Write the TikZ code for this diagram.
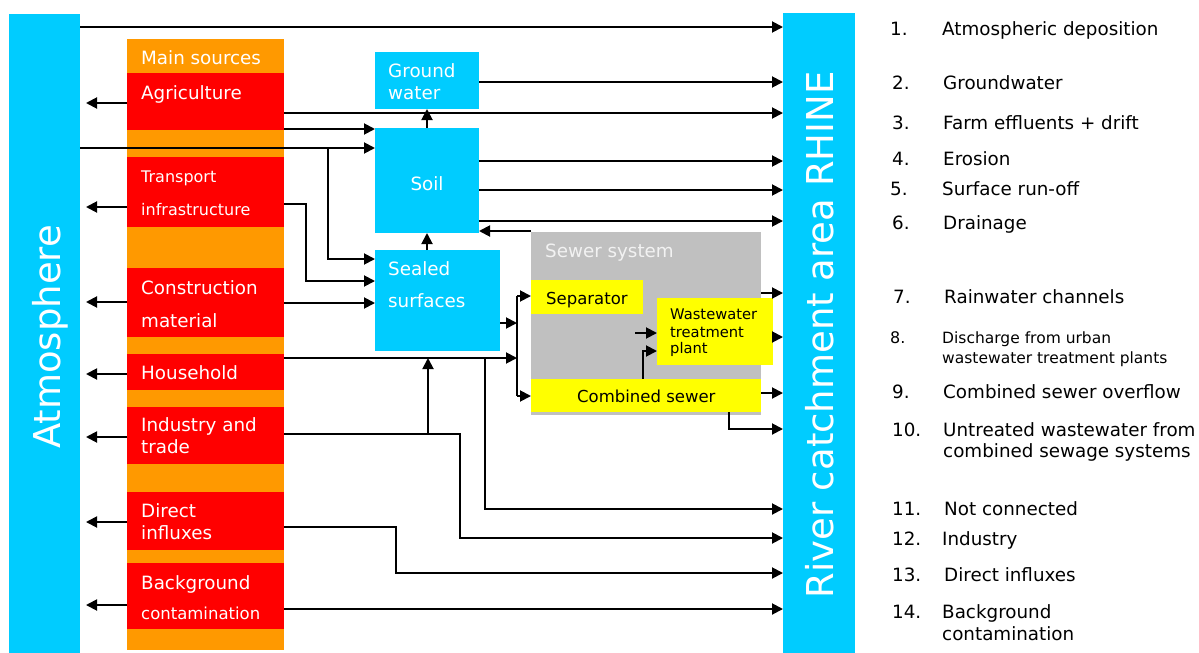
\documentclass[tikz,border=0pt]{standalone}
\usepackage{fontspec}
\setmainfont{DejaVu Sans}
\usetikzlibrary{arrows.meta}
\definecolor{cy}{HTML}{00CCFF}
\definecolor{orng}{HTML}{FF9900}
\definecolor{rd}{HTML}{FF0000}
\definecolor{yl}{HTML}{FFFF00}
\definecolor{gry}{HTML}{C0C0C0}
\begin{document}
\begin{tikzpicture}[x=1pt,y=-1pt,
  box/.style={anchor=north west, inner sep=0pt, outer sep=0pt, draw=none},
  ln/.style={line width=1.9pt, line join=miter},
  arr/.style={ln, -{Triangle[length=11pt,width=11pt]}},
  tx/.style={anchor=base west, inner sep=0pt, font=\fontsize{18.3}{20}\selectfont},
  wt/.style={tx, text=white},
  bt/.style={tx, text=black},
  big/.style={anchor=base, inner sep=0pt, rotate=90, text=white, font=\fontsize{37}{40}\selectfont}
]
\useasboundingbox (0,0) rectangle (1199,653);
\fill[white] (0,0) rectangle (1199,653);

% big bars
\node[box, fill=cy, minimum width=71, minimum height=639] (atm) at (9,14) {};
\node[box, fill=cy, minimum width=72, minimum height=640] (river) at (783,13) {};
\node[big] (tatm) at (60,337) {Atmosphere};
\node[big] (triver) at (833,335) {River catchment area RHINE};

% sources column
\node[box, fill=orng, minimum width=157, minimum height=611] (src) at (127,39) {};
\node[box, fill=rd, minimum width=157, minimum height=57] (agri) at (127,73) {};
\node[box, fill=rd, minimum width=157, minimum height=70] (trans) at (127,157) {};
\node[box, fill=rd, minimum width=157, minimum height=69] (constr) at (127,268) {};
\node[box, fill=rd, minimum width=157, minimum height=36] (house) at (127,354) {};
\node[box, fill=rd, minimum width=157, minimum height=57] (indus) at (127,407) {};
\node[box, fill=rd, minimum width=157, minimum height=58] (direct) at (127,492) {};
\node[box, fill=rd, minimum width=157, minimum height=66] (backg) at (127,563) {};

\node[wt] (tsrc) at (141,64) {Main sources};
\node[wt] (tagri) at (141,99) {Agriculture};
\node[wt, font=\fontsize{16}{18}\selectfont] (ttr1) at (141,182) {Transport};
\node[wt, font=\fontsize{16}{18}\selectfont] (ttr2) at (141,215) {infrastructure};
\node[wt] (tco1) at (141,294) {Construction};
\node[wt] (tco2) at (141,327) {material};
\node[wt] (thou) at (141,379) {Household};
\node[wt] (tin1) at (141,431) {Industry and};
\node[wt] (tin2) at (141,453) {trade};
\node[wt] (tdi1) at (141,517) {Direct};
\node[wt] (tdi2) at (141,539) {influxes};
\node[wt] (tba1) at (141,589) {Background};
\node[wt, font=\fontsize{16.5}{18}\selectfont] (tba2) at (141,619) {contamination};

% middle boxes
\node[box, fill=cy, minimum width=104, minimum height=57] (gw) at (375,52) {};
\node[box, fill=cy, minimum width=104, minimum height=105] (soil) at (375,128) {};
\node[box, fill=cy, minimum width=125, minimum height=101] (sealed) at (375,250) {};
\node[box, fill=gry, minimum width=230, minimum height=183] (sewer) at (531,232) {};
\node[box, fill=yl, minimum width=112, minimum height=34] (sep) at (531,280) {};
\node[box, fill=yl, minimum width=116, minimum height=67] (wwtp) at (657,298) {};
\node[box, fill=yl, minimum width=230, minimum height=33] (comb) at (531,379) {};

\node[wt] (tgw1) at (388,77) {Ground};
\node[wt] (tgw2) at (388,99) {water};
\node[wt, anchor=base] (tsoil) at (427,190) {Soil};
\node[wt] (tse1) at (388,275) {Sealed};
\node[wt] (tse2) at (388,307) {surfaces};
\node[tx, text=white!95!black] (tsew) at (545,257) {Sewer system};
\node[bt, font=\fontsize{16.5}{18}\selectfont] (tsep) at (546,304) {Separator};
\node[bt, font=\fontsize{14.7}{16}\selectfont] (tww1) at (670,319) {Wastewater};
\node[bt, font=\fontsize{14.7}{16}\selectfont] (tww2) at (670,337) {treatment};
\node[bt, font=\fontsize{14.7}{16}\selectfont] (tww3) at (670,353) {plant};
\node[bt, font=\fontsize{16.5}{18}\selectfont] (tcomb) at (577,402) {Combined sewer};

% junction coordinates
\coordinate (jA) at (328,148);
\coordinate (jT) at (306,204);
\coordinate (bar1) at (517,296);
\coordinate (bar2) at (517,396);
\coordinate (jH) at (485,358);
\coordinate (jI) at (428,434);
\coordinate (w1) at (635,333);

% connectors to river
\draw[arr] (atm.east |- 0,27) -- (river.west |- 0,27);
\draw[arr] (gw.east |- 0,82) -- (river.west |- 0,82);
\draw[arr] (agri.east |- 0,113) -- (river.west |- 0,113);
\draw[arr] (soil.east |- 0,161) -- (river.west |- 0,161);
\draw[arr] (soil.east |- 0,190) -- (river.west |- 0,190);
\draw[arr] (soil.east |- 0,221) -- (river.west |- 0,221);

% into soil / sealed
\draw[arr] (agri.east |- 0,129) -- (soil.west |- 0,129);
\draw[arr] (atm.east |- jA) -- (soil.west |- jA);
\draw[arr] (jA) -- (jA |- 0,259) -- (sealed.west |- 0,259);
\draw[arr] (trans.east |- jT) -- (jT) -- (jT |- 0,281) -- (sealed.west |- 0,281);
\draw[arr] (constr.east |- 0,303) -- (sealed.west |- 0,303);
\draw[arr] (soil.north) -- (gw.south);
\draw[arr] (sealed.north -| soil.north) -- (soil.south);
\draw[arr] (sewer.north west) ++(0,-1) -- (soil.east |- 0,231);

% to sewer system
\draw[ln] (bar1) -- (bar2);
\draw[arr] (sealed.east |- 0,323) -- (bar1 |- 0,323);
\draw[arr] (bar1) -- (sep.west |- bar1);
\draw[arr] (bar2) -- (comb.west |- bar2);
\draw[arr] (house.east |- jH) -- (bar1 |- jH);
\draw[arr] (jH) -- (jH |- 0,509) -- (river.west |- 0,509);
\draw[arr] (indus.east |- jI) -- (460,434) -- (460,538) -- (river.west |- 0,538);
\draw[arr] (jI) -- (jI |- jH);
\draw[arr] (direct.east |- 0,527) -- (396,527) -- (396,573) -- (river.west |- 0,573);
\draw[arr] (backg.east |- 0,609) -- (river.west |- 0,609);

% inside sewer
\draw[arr] (w1) -- (wwtp.west |- w1);
\draw[arr] (comb.north -| 643,0) -- (643,351) -- (wwtp.west |- 0,351);

% sewer to river
\draw[arr] (sewer.east |- 0,293) -- (river.west |- 0,293);
\draw[arr] (wwtp.east |- 0,337) -- (river.west |- 0,337);
\draw[arr] (comb.east |- 0,393) -- (river.west |- 0,393);
\draw[arr] (comb.south -| 729,0) -- (729,429) -- (river.west |- 0,429);

% to atmosphere
\foreach \n/\y in {agri/103, trans/207, constr/302, house/374, indus/437, direct/522, backg/605}
  \draw[arr, shorten >=6pt] (\n.west |- 0,\y) -- (atm.east |- 0,\y);

% legend
\node[bt] (n1) at (890,35) {1.};   \node[bt] (l1) at (942,35) {Atmospheric deposition};
\node[bt] (n2) at (892,89) {2.};   \node[bt] (l2) at (943,89) {Groundwater};
\node[bt] (n3) at (892,129) {3.};  \node[bt] (l3) at (943,129) {Farm effluents + drift};
\node[bt] (n4) at (892,165) {4.};  \node[bt] (l4) at (943,165) {Erosion};
\node[bt] (n5) at (890,195) {5.};  \node[bt] (l5) at (942,195) {Surface run-off};
\node[bt] (n6) at (892,229) {6.};  \node[bt] (l6) at (943,229) {Drainage};
\node[bt] (n7) at (893,303) {7.};  \node[bt] (l7) at (944,303) {Rainwater channels};
\node[bt, font=\fontsize{16}{18}\selectfont] (n8) at (890,343) {8.};
\node[bt, font=\fontsize{15.5}{18}\selectfont] (l8a) at (942,343) {Discharge from urban};
\node[bt, font=\fontsize{15.5}{18}\selectfont] (l8b) at (942,363) {wastewater treatment plants};
\node[bt] (n9) at (892,398) {9.};  \node[bt] (l9) at (943,398) {Combined sewer overflow};
\node[bt] (n10) at (892,436) {10.}; \node[bt] (l10a) at (943,436) {Untreated wastewater from};
\node[bt] (l10b) at (943,457) {combined sewage systems};
\node[bt] (n11) at (892,515) {11.}; \node[bt] (l11) at (944,515) {Not connected};
\node[bt] (n12) at (892,545) {12.}; \node[bt] (l12) at (942,545) {Industry};
\node[bt] (n13) at (892,581) {13.}; \node[bt] (l13) at (944,581) {Direct influxes};
\node[bt] (n14) at (892,618) {14.}; \node[bt] (l14a) at (942,618) {Background};
\node[bt] (l14b) at (942,640) {contamination};
\end{tikzpicture}
\end{document}
